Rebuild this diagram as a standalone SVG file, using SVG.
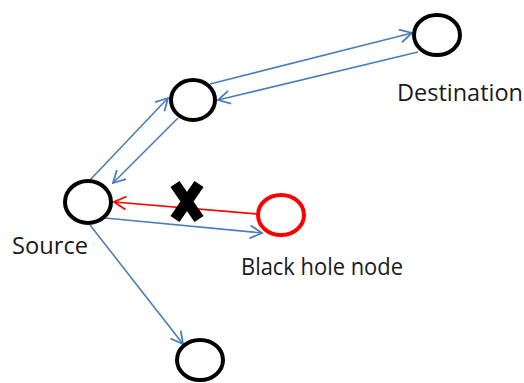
<svg xmlns="http://www.w3.org/2000/svg" width="524" height="383" viewBox="0 0 524 383">
<style>
.node{fill:none;stroke:#000;stroke-width:4}
.bh{fill:none;stroke:#ff0000;stroke-width:4}
.link{fill:none;stroke:#4a7ebb;stroke-width:1.6}
.red{fill:none;stroke:#ff0000;stroke-width:1.6}
.lbl{font-family:"Open Sans","Liberation Sans",sans-serif;font-size:23.5px;fill:#1a1a1a}
</style>
<defs>
<marker id="ab" markerUnits="userSpaceOnUse" markerWidth="20" markerHeight="20" viewBox="-14 -10 20 20" refX="0" refY="0" orient="auto">
<path d="M -12 -6.5 L 0 0 L -12 6.5" fill="none" stroke="#4a7ebb" stroke-width="1.8"/>
</marker>
<marker id="ar" markerUnits="userSpaceOnUse" markerWidth="20" markerHeight="20" viewBox="-14 -10 20 20" refX="0" refY="0" orient="auto">
<path d="M -12 -6.5 L 0 0 L -12 6.5" fill="none" stroke="#ff0000" stroke-width="1.8"/>
</marker>
</defs>
<g id="connectors">
<line class="link" x1="210" y1="84" x2="412" y2="33" marker-end="url(#ab)"/>
<line class="link" x1="418" y1="52" x2="218" y2="100" marker-end="url(#ab)"/>
<line class="link" x1="90" y1="180" x2="168" y2="98" marker-end="url(#ab)"/>
<line class="link" x1="178" y1="118" x2="113" y2="183" marker-end="url(#ab)"/>
<line class="red" x1="257" y1="214" x2="114" y2="202" marker-end="url(#ar)"/>
<line class="link" x1="105" y1="218" x2="262" y2="233" marker-end="url(#ab)"/>
<line class="link" x1="90" y1="225" x2="183" y2="344" marker-end="url(#ab)"/>
</g>
<g id="destination">
<ellipse class="node" cx="437" cy="35" rx="23" ry="20"/>
<text class="lbl" x="397" y="101" textLength="126" lengthAdjust="spacingAndGlyphs">Destination</text>
</g>
<g id="middle">
<ellipse class="node" cx="193" cy="100" rx="22" ry="20"/>
</g>
<g id="source">
<ellipse class="node" cx="88" cy="202" rx="23" ry="21"/>
<text class="lbl" x="12" y="254" textLength="76" lengthAdjust="spacingAndGlyphs">Source</text>
</g>
<g id="blackhole">
<ellipse class="bh" cx="281" cy="215" rx="23" ry="20"/>
<text class="lbl" x="241" y="275" textLength="162" lengthAdjust="spacingAndGlyphs">Black hole node</text>
</g>
<g id="bottom">
<ellipse class="node" cx="200" cy="360" rx="23" ry="20"/>
</g>
<g id="cross">
<path d="M 175 184 L 199 219 M 199 184 L 175 219" stroke="#000" stroke-width="11" fill="none"/>
</g>
</svg>
